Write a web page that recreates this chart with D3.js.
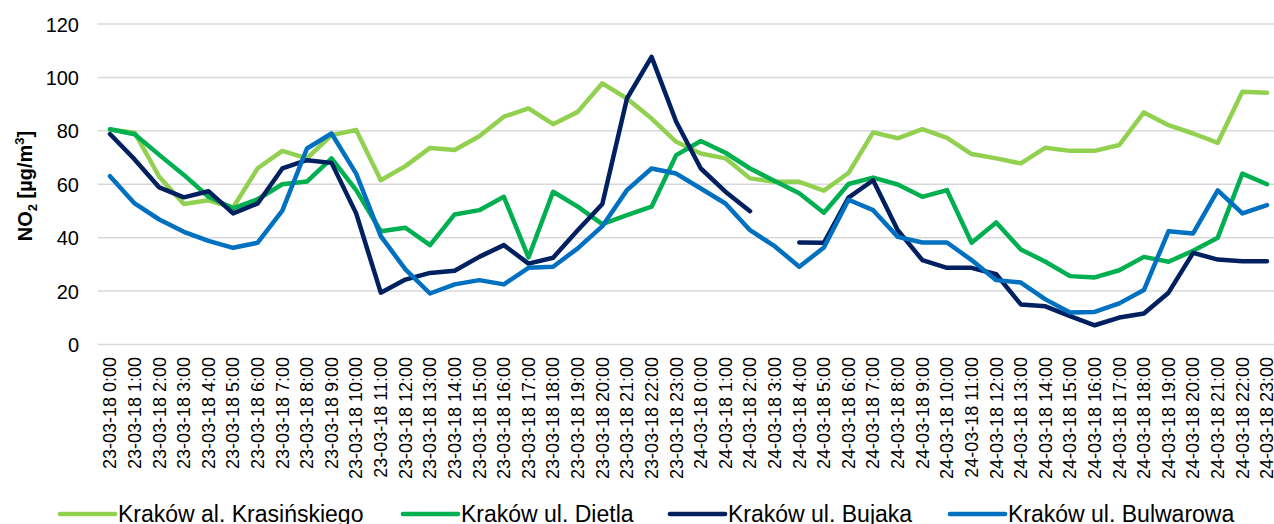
<!DOCTYPE html>
<html><head><meta charset="utf-8">
<script src="https://cdn.jsdelivr.net/npm/d3@7"></script>
<style>
html,body{margin:0;padding:0;background:#fff;}
svg{display:block;font-family:"Liberation Sans",Arial,sans-serif;}
</style></head>
<body><svg id="c" width="1274" height="524"></svg>
<script>
const categories = [];
["23-03-18","24-03-18"].forEach(d => { for (let h = 0; h < 24; h++) categories.push(d + " " + h + ":00"); });

const seriesNames = ["Kraków al. Krasińskiego","Kraków ul. Dietla","Kraków ul. Bujaka","Kraków ul. Bulwarowa"];
const seriesColors = ["#92D050","#00B050","#002060","#0070C0"];

const krasinskiego = [80.5,79.3,62.8,52.6,54,51.3,66,72.5,69.7,78.4,80.3,61.5,66.8,73.6,72.8,78,85.3,88.4,82.5,87.1,97.8,92.1,84.6,75.9,71.5,69.7,62.2,60.9,60.9,57.6,64.2,79.4,77.2,80.6,77.4,71.3,69.7,67.8,73.7,72.5,72.5,74.7,86.9,82.1,79,75.5,94.6,94.3];
const dietla = [80.6,78.7,71,63.5,55.3,51,54.4,60,61,69.7,57.8,42.4,43.7,37.2,48.7,50.3,55.3,32.6,57.2,51.6,45.1,48.4,51.6,70.9,76.2,71.8,65.9,61.2,56.6,49.3,60.1,62.5,59.9,55.3,57.8,38.1,45.7,35.6,31,25.6,25.1,27.8,32.8,31,35.1,40,64,60];
const bujaka = [78.8,69.3,58.8,55.1,57.4,49.1,52.8,65.9,69,68,49.1,19.4,24.3,26.8,27.6,32.8,37.2,30.3,32.5,42.8,52.6,92.1,107.7,83.4,65.9,57.2,49.9,null,38.2,38.1,55,61.5,42.8,31.6,28.7,28.7,26.3,15,14.3,10.6,7.2,10.1,11.6,19.4,34.3,31.8,31.2,31.2];
const bulwarowa = [63,52.8,46.8,42.2,38.8,36.2,38.1,50.1,73.4,79,64,40.6,28.1,19.1,22.5,24.1,22.5,28.7,29.1,36,44.3,57.8,65.9,64,58.4,52.8,42.8,36.8,29.1,36.3,54.2,50.3,40.3,38.2,38.2,31.6,24.1,23.2,16.9,12,12.2,15.4,20.4,42.4,41.6,57.7,49.1,52.2];
const yTicks = [0,20,40,60,80,100,120];

const series = [krasinskiego, dietla, bujaka, bulwarowa];

const svg = d3.select("#c");
const x = d3.scalePoint().domain(categories).range([97.7, 1279.3]).padding(0.5);
const y = d3.scaleLinear().domain([0,120]).range([344.5, 24]);

// gridlines
svg.append("g").selectAll("line").data(yTicks).join("line")
  .attr("x1", 97.7).attr("x2", 1279.3)
  .attr("y1", d => y(d)).attr("y2", d => y(d))
  .attr("stroke", "#d9d9d9").attr("stroke-width", 1.5);

// y axis labels
const yAxis = d3.axisLeft(y).tickValues(yTicks).tickSize(0).tickPadding(0);
const gy = svg.append("g").attr("transform", "translate(79,0)").call(yAxis);
gy.select(".domain").remove();
gy.selectAll("text").attr("font-size", 20).attr("fill", "#000")
  .attr("font-family", "Liberation Sans, Arial, sans-serif").attr("dy", "0.35em");

// x axis labels
const xAxis = d3.axisBottom(x).tickSize(0).tickPadding(0);
const gx = svg.append("g").attr("transform", "translate(0,357)").call(xAxis);
gx.select(".domain").remove();
gx.selectAll("text").attr("font-size", 18).attr("fill", "#000")
  .attr("font-family", "Liberation Sans, Arial, sans-serif")
  .attr("text-anchor", "end")
  .attr("transform", "rotate(-90)")
  .attr("x", 0).attr("y", 0).attr("dy", "0.35em")
  .each(function(d){ d3.select(this).attr("transform", "translate(" + 0 + ",0) rotate(-90)"); });
// position rotated labels at point centers
gx.selectAll(".tick").attr("transform", d => "translate(" + x(d) + ",0)");

// lines
const line = d3.line().defined(d => d[1] != null).x(d => x(d[0])).y(d => y(d[1]));
series.forEach((vals, i) => {
  svg.append("path")
    .datum(categories.map((c, j) => [c, vals[j]]))
    .attr("fill", "none").attr("stroke", seriesColors[i])
    .attr("stroke-width", 4.5).attr("stroke-linejoin", "round").attr("stroke-linecap", "round")
    .attr("d", line);
});

// y title
const yt = svg.append("text")
  .attr("transform", "translate(32,186) rotate(-90)")
  .attr("text-anchor", "middle").attr("font-size", 20).attr("font-weight", "bold").attr("fill", "#000");
yt.append("tspan").text("NO");
yt.append("tspan").attr("font-size", 13).attr("dy", 5).text("2");
yt.append("tspan").attr("dy", -5).text(" [µg/m");
yt.append("tspan").attr("font-size", 13).attr("dy", -8).text("3");
yt.append("tspan").attr("dy", 8).text("]");

// legend
const legendX = [60, 403, 670, 950];
const lg = svg.append("g");
seriesNames.forEach((n, i) => {
  lg.append("line").attr("x1", legendX[i]).attr("x2", legendX[i] + 55)
    .attr("y1", 514).attr("y2", 514)
    .attr("stroke", seriesColors[i]).attr("stroke-width", 4.7).attr("stroke-linecap", "round");
  lg.append("text").attr("x", legendX[i] + 58).attr("y", 522)
    .attr("font-size", 23).attr("fill", "#000").text(n);
});
</script></body></html>
